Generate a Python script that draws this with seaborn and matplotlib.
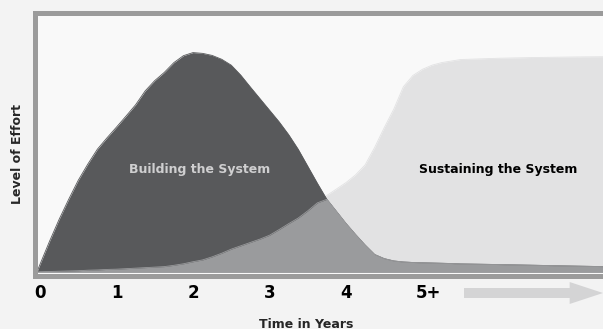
import numpy as np
import pandas as pd
import seaborn as sns
import matplotlib.pyplot as plt

# years on the x axis and the two effort curves
years = [-0.04, 0, 0.125, 0.25, 0.375, 0.5, 0.625, 0.75, 0.875, 1.0, 1.125, 1.25, 1.375,
         1.5, 1.625, 1.75, 1.875, 2.0, 2.125, 2.25, 2.375, 2.5, 2.625, 2.75, 2.875,
         3.0, 3.125, 3.25, 3.375, 3.5, 3.625, 3.75, 3.875, 4.0, 4.125, 4.25, 4.375,
         4.5, 4.625, 4.75, 4.875, 5.0, 5.125, 5.25, 5.375, 5.5, 6.0, 6.5, 7.0, 7.36]
building = [0, 3, 12, 20.5, 28.3, 35.7, 42, 47.8, 52.2, 56.4, 60.7, 65.1, 70.5,
            74.5, 77.7, 81.5, 84.2, 85.4, 85.1, 84.3, 82.8, 80.5, 76.6, 72, 67.5,
            63, 58.5, 53.5, 47.8, 41.2, 34.6, 28.3, 23.6, 18.9, 14.6, 10.5, 6.8,
            5.2, 4.3, 3.9, 3.7, 3.6, 3.5, 3.4, 3.3, 3.15, 2.9, 2.6, 2.3, 2.1]
sustaining = [0, 0.1, 0.2, 0.3, 0.4, 0.5, 0.7, 0.8, 1.0, 1.1, 1.3, 1.5, 1.7,
              1.9, 2.1, 2.6, 3.2, 4.0, 4.7, 5.9, 7.3, 8.9, 10.2, 11.5, 12.8,
              14.3, 16.5, 18.8, 21.0, 23.8, 26.9, 29.8, 32.3, 34.8, 37.8, 41.7, 48.5,
              56.2, 63.4, 72.1, 76.5, 78.9, 80.5, 81.5, 82.1, 82.7, 83.2, 83.5, 83.7, 83.8]
tick_pos = [0, 1, 2, 3, 4, 5.08]
tick_labels = ["0", "1", "2", "3", "4", "5+"]

df = pd.DataFrame({"year": years, "building": building, "sustaining": sustaining})
df["overlap"] = np.minimum(df["building"], df["sustaining"])

sns.set_theme(style="white")
plt.rcParams["font.family"] = ["DejaVu Sans"]

dark = "#58595b"
mid = "#9a9b9d"
light = "#e2e2e3"
frame = "#9b9b9b"

fig = plt.figure(figsize=(6.03, 3.29), dpi=100, facecolor="#f3f3f3")
ax = fig.add_axes([34.5 / 603, 53 / 329, 1 - 34.5 / 603, 263.5 / 329])
ax.set_facecolor("#f9f9f9")

ax.fill_between(df["year"], 0, df["sustaining"], color=light, lw=0, zorder=1)
ax.fill_between(df["year"], 0, df["building"], color=dark, lw=0, zorder=1.1)
ax.fill_between(df["year"], 0, df["overlap"], color=mid, lw=0, zorder=1.2)
sns.lineplot(data=df, x="year", y="sustaining", color=light, lw=0.6, ax=ax, zorder=1.05)
sns.lineplot(data=df, x="year", y="building", color=dark, lw=0.6, ax=ax, zorder=1.15)
sns.lineplot(data=df, x="year", y="overlap", color=mid, lw=0.6, ax=ax, zorder=1.25)

ax.set_xlim(-0.072, 7.36)
ax.set_ylim(-1.56, 101)
ax.set_xticks(tick_pos)
ax.set_xticklabels(tick_labels, fontsize=12, fontweight="bold", color="black")
ax.set_yticks([])
ax.tick_params(axis="x", length=0, pad=6)
ax.set_xlabel("")
ax.set_ylabel("")

for side in ["left", "top", "bottom"]:
    ax.spines[side].set_color(frame)
    ax.spines[side].set_linewidth(3.6)
ax.spines["right"].set_visible(False)

ax.text(2.09, 40, "Building the System", fontsize=9, fontweight="bold",
        color="#cfcfd0", ha="center", va="center", zorder=3)
ax.text(5.99, 40, "Sustaining the System", fontsize=9, fontweight="bold",
        color="black", ha="center", va="center", zorder=3)

fig.text(18 / 603, 1 - 154 / 329, "Level of Effort", rotation=90, fontsize=9,
         fontweight="bold", ha="center", va="center")
fig.text(306 / 603, 1.5 / 329, "Time in Years", fontsize=9, fontweight="bold",
         ha="center", va="baseline")

ax.annotate("", xy=(603, 36), xytext=(464, 36), xycoords="figure pixels",
            textcoords="figure pixels",
            arrowprops=dict(arrowstyle="simple,head_length=24,head_width=15.8,tail_width=7.2",
                            mutation_scale=1, color="#d4d4d5", lw=0,
                            shrinkA=0, shrinkB=0))

fig.savefig("out.png", dpi=100, facecolor=fig.get_facecolor())
